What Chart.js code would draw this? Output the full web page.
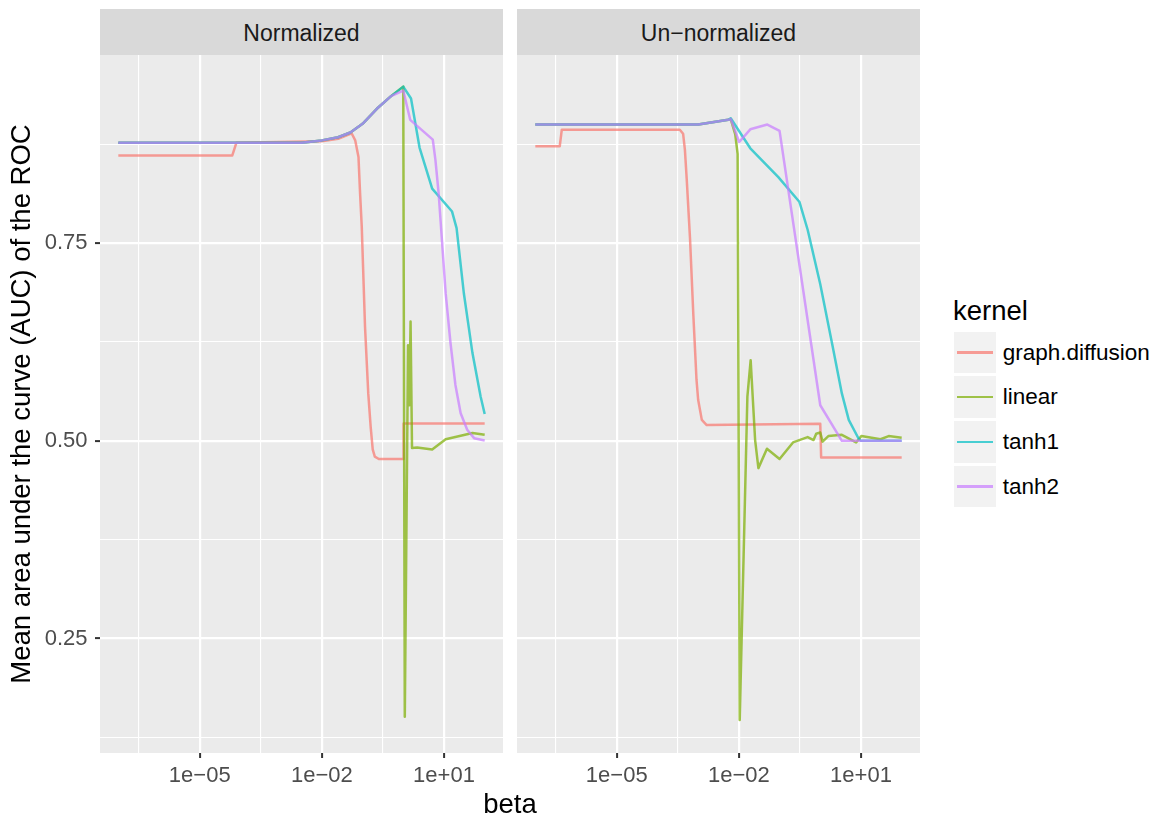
<!DOCTYPE html>
<html>
<head>
<meta charset="utf-8">
<script src="https://cdn.jsdelivr.net/npm/chart.js@4.4.1/dist/chart.umd.min.js"></script>
<style>
  html, body { margin: 0; padding: 0; background: #ffffff; }
  body { width: 1157px; height: 816px; position: relative; overflow: hidden; font-family: "Liberation Sans", Arial, sans-serif; }
  canvas { position: absolute; top: 0; }
  .strip { position: absolute; top: 9px; height: 43px; padding-top: 3px; line-height: 43px; background: #D9D9D9; color: #1A1A1A; font-size: 23px; text-align: center; }
  .xtitle { position: absolute; left: 410px; width: 200px; top: 790px; line-height: 28px; font-size: 27.5px; color: #000; text-align: center; }
  .legend-title { position: absolute; left: 953px; top: 297px; line-height: 27px; font-size: 27.5px; color: #000; }
  .key { position: absolute; left: 954px; width: 42px; height: 41.5px; background: #F2F2F2; }
  .key .ln { position: absolute; left: 3.3px; width: 35.4px; top: 19.5px; height: 2.5px; }
  .klabel { position: absolute; left: 1002.7px; height: 41.5px; line-height: 41.5px; font-size: 22.5px; color: #000; white-space: nowrap; }
</style>
</head>
<body>
<div class="strip" style="left:100px;width:403px;">Normalized</div>
<div class="strip" style="left:517px;width:403px;">Un−normalized</div>
<canvas id="left" width="510" height="816" style="left:0px;width:510px;height:816px;"></canvas>
<canvas id="right" width="417" height="816" style="left:510px;width:417px;height:816px;"></canvas>
<div class="xtitle">beta</div>
<div class="legend-title">kernel</div>
<div id="legend"></div>
<script>
// ---------- categories / labels ----------
const kernels = ['graph.diffusion', 'linear', 'tanh1', 'tanh2'];
const kernelColors = ['#F8766D', '#7CAE00', '#00BFC4', '#C77CFF'];
const panels = ['Normalized', 'Un\u2212normalized'];
const xTitle = 'beta';
const yTitle = 'Mean area under the curve (AUC) of the ROC';

// ---------- axes ----------
const xMajorTicks = [1e-5, 1e-2, 1e1];
const xTickLabels = ['1e\u221205', '1e\u221202', '1e+01'];
const xMinorTicks = [3.162e-7, 3.162e-4, 0.3162];
const yMajorTicks = [0.25, 0.5, 0.75];
const yTickLabels = ['0.25', '0.50', '0.75'];
const yMinorTicks = [0.125, 0.375, 0.625, 0.875];
const xMin = 3.548e-8, xMax = 281.8;
const yMin = 0.1052, yMax = 0.988;

// ---------- Normalized panel ----------
const normBetaGraphDiffusion = [1e-7, 6.31e-5, 7.94e-5, 1e-2, 2.51e-2, 5.37e-2, 6.61e-2, 7.94e-2, 8.71e-2, 9.55e-2, 0.115, 0.138, 0.158, 0.178, 0.2, 0.251, 1, 1.02, 100];
const normAucGraphDiffusion  = [0.861, 0.861, 0.877, 0.879, 0.882, 0.889, 0.880, 0.859, 0.812, 0.771, 0.644, 0.560, 0.518, 0.489, 0.480, 0.477, 0.477, 0.522, 0.522];

const normBetaLinear = [1e-7, 3.16e-3, 1e-2, 2.51e-2, 5.01e-2, 0.1, 0.224, 0.501, 1, 1.09, 1.31, 1.41, 1.51, 1.64, 2.19, 5.13, 11.0, 50.1, 100];
const normAucLinear  = [0.877, 0.877, 0.880, 0.884, 0.890, 0.901, 0.920, 0.936, 0.948, 0.151, 0.621, 0.545, 0.651, 0.491, 0.4915, 0.489, 0.502, 0.510, 0.5076];

const normBetaTanh1 = [1e-7, 3.16e-3, 1e-2, 2.51e-2, 5.01e-2, 0.1, 0.224, 0.501, 1, 1.55, 2.51, 5.13, 15.8, 20.4, 30.9, 50.1, 79.4, 100];
const normAucTanh1  = [0.877, 0.877, 0.880, 0.884, 0.890, 0.901, 0.920, 0.936, 0.948, 0.933, 0.871, 0.819, 0.790, 0.769, 0.686, 0.611, 0.556, 0.534];

const normBetaTanh2 = [1e-7, 3.16e-3, 1e-2, 2.51e-2, 5.01e-2, 0.1, 0.224, 0.501, 1, 1.48, 5.31, 6.17, 7.41, 9.02, 11.0, 14.5, 19.1, 25.7, 37.2, 55.0, 100];
const normAucTanh2  = [0.877, 0.877, 0.880, 0.884, 0.890, 0.901, 0.920, 0.936, 0.943, 0.906, 0.881, 0.855, 0.8125, 0.750, 0.6865, 0.6234, 0.5707, 0.535, 0.514, 0.5034, 0.5004];

// ---------- Un-normalized panel ----------
const unnormBetaGraphDiffusion = [1e-7, 3.98e-7, 4.47e-7, 3.55e-4, 4.27e-4, 4.73e-4, 5.25e-4, 6.31e-4, 7.59e-4, 9.12e-4, 1e-3, 1.23e-3, 1.62e-3, 1, 1.05, 100];
const unnormAucGraphDiffusion  = [0.8725, 0.8725, 0.8935, 0.8935, 0.8885, 0.868, 0.830, 0.756, 0.661, 0.577, 0.552, 0.5265, 0.520, 0.5215, 0.479, 0.479];

const unnormBetaLinear = [1e-7, 1e-3, 5.5e-3, 6.31e-3, 8.13e-3, 9.33e-3, 1.05e-2, 1.62e-2, 1.95e-2, 2.51e-2, 3.02e-2, 4.90e-2, 0.1, 0.214, 0.490, 0.684, 0.794, 1, 1.14, 1.58, 3.39, 7.59, 10.2, 30.2, 47.9, 100];
const unnormAucLinear  = [0.900, 0.900, 0.906, 0.907, 0.888, 0.863, 0.147, 0.556, 0.602, 0.501, 0.4655, 0.490, 0.477, 0.498, 0.5047, 0.501, 0.509, 0.5105, 0.499, 0.506, 0.5076, 0.498, 0.506, 0.502, 0.506, 0.504];

const unnormBetaTanh1 = [1e-7, 1e-3, 5.5e-3, 6.31e-3, 1.91e-2, 9.33e-2, 0.309, 0.490, 1, 1.95, 3.39, 5.01, 8.71, 10, 100];
const unnormAucTanh1  = [0.900, 0.900, 0.906, 0.908, 0.870, 0.8335, 0.802, 0.767, 0.698, 0.623, 0.560, 0.5265, 0.503, 0.500, 0.500];

const unnormBetaTanh2 = [1e-7, 1e-3, 5.5e-3, 6.31e-3, 1.02e-2, 1.91e-2, 5.01e-2, 0.1, 1, 3.39, 100];
const unnormAucTanh2  = [0.900, 0.900, 0.906, 0.907, 0.878, 0.894, 0.900, 0.892, 0.545, 0.500, 0.500];

// ---------- helpers ----------
const FONT = '"Liberation Sans", Arial, sans-serif';
const LINE_ALPHA = 0.7;
function withAlpha(hex, a) {
  const n = parseInt(hex.slice(1), 16);
  return 'rgba(' + (n >> 16) + ',' + ((n >> 8) & 255) + ',' + (n & 255) + ',' + a + ')';
}
function isMajor(list, v) { return list.some(t => Math.abs(t - v) <= Math.abs(t) * 1e-6); }
function labelFor(list, labels, v) {
  const i = list.findIndex(t => Math.abs(t - v) <= Math.abs(t) * 1e-6);
  return i >= 0 ? labels[i] : '';
}
function makeDatasets(series) {
  return series.map((s, k) => ({
    label: kernels[k],
    data: s[0].map((b, i) => ({ x: b, y: s[1][i] })),
    borderColor: withAlpha(kernelColors[k], LINE_ALPHA),
    backgroundColor: withAlpha(kernelColors[k], LINE_ALPHA),
    borderWidth: 2.5,
    pointRadius: 0,
    tension: 0,
    fill: false,
    borderJoinStyle: 'round',
    borderCapStyle: 'butt',
    order: kernels.length - k
  }));
}

const panelBg = {
  id: 'panelBg',
  beforeDraw(chart) {
    const { ctx, chartArea: a } = chart;
    ctx.save();
    ctx.fillStyle = '#EBEBEB';
    ctx.fillRect(a.left, a.top, a.right - a.left, a.bottom - a.top);
    ctx.restore();
  }
};

function makeOptions(showY) {
  return {
    responsive: false,
    animation: false,
    devicePixelRatio: 1,
    events: [],
    layout: { padding: { left: showY ? 0 : 7, right: 7, top: 55, bottom: 0 } },
    plugins: { legend: { display: false }, tooltip: { enabled: false }, title: { display: false } },
    scales: {
      x: {
        type: 'logarithmic',
        min: xMin, max: xMax,
        bounds: 'data',
        afterBuildTicks: s => { s.ticks = xMinorTicks.concat(xMajorTicks).sort((a, b) => a - b).map(v => ({ value: v })); },
        afterFit: s => { s.height = 63; },
        ticks: {
          autoSkip: false, maxRotation: 0, minRotation: 0, padding: 5,
          color: '#4D4D4D', font: { family: FONT, size: 22 },
          callback: v => labelFor(xMajorTicks, xTickLabels, v)
        },
        grid: {
          color: '#FFFFFF',
          lineWidth: c => (c.tick && isMajor(xMajorTicks, c.tick.value)) ? 2.2 : 1.1,
          drawTicks: true, tickLength: 5, tickWidth: 2,
          tickColor: c => (c.tick && isMajor(xMajorTicks, c.tick.value)) ? '#333333' : 'rgba(0,0,0,0)'
        },
        border: { display: false }
      },
      y: {
        type: 'linear',
        min: yMin, max: yMax,
        afterBuildTicks: s => { s.ticks = yMinorTicks.concat(yMajorTicks).sort((a, b) => a - b).map(v => ({ value: v })); },
        afterFit: s => { s.width = showY ? 100 : 0; },
        ticks: {
          display: showY, autoSkip: false, padding: 7.5,
          color: '#4D4D4D', font: { family: FONT, size: 22 },
          callback: v => labelFor(yMajorTicks, yTickLabels, v)
        },
        grid: {
          color: '#FFFFFF',
          lineWidth: c => (c.tick && isMajor(yMajorTicks, c.tick.value)) ? 2.2 : 1.1,
          drawTicks: showY, tickLength: 5, tickWidth: 2,
          tickColor: c => (showY && c.tick && isMajor(yMajorTicks, c.tick.value)) ? '#333333' : 'rgba(0,0,0,0)'
        },
        border: { display: false },
        title: {
          display: showY, text: yTitle, color: '#000000',
          font: { family: FONT, size: 27.5 },
          padding: { top: 6, bottom: 0 }
        }
      }
    }
  };
}

new Chart(document.getElementById('left'), {
  type: 'line',
  data: { datasets: makeDatasets([
    [normBetaGraphDiffusion, normAucGraphDiffusion],
    [normBetaLinear, normAucLinear],
    [normBetaTanh1, normAucTanh1],
    [normBetaTanh2, normAucTanh2]
  ]) },
  options: makeOptions(true),
  plugins: [panelBg]
});

new Chart(document.getElementById('right'), {
  type: 'line',
  data: { datasets: makeDatasets([
    [unnormBetaGraphDiffusion, unnormAucGraphDiffusion],
    [unnormBetaLinear, unnormAucLinear],
    [unnormBetaTanh1, unnormAucTanh1],
    [unnormBetaTanh2, unnormAucTanh2]
  ]) },
  options: makeOptions(false),
  plugins: [panelBg]
});

// ---------- legend ----------
const keyTops = [331.7, 376.3, 421, 465.7];
const legend = document.getElementById('legend');
kernels.forEach((name, k) => {
  const key = document.createElement('div');
  key.className = 'key';
  key.style.top = keyTops[k] + 'px';
  const ln = document.createElement('div');
  ln.className = 'ln';
  ln.style.background = withAlpha(kernelColors[k], LINE_ALPHA);
  key.appendChild(ln);
  legend.appendChild(key);
  const lab = document.createElement('div');
  lab.className = 'klabel';
  lab.style.top = keyTops[k] + 'px';
  lab.textContent = name;
  legend.appendChild(lab);
});
</script>
</body>
</html>
